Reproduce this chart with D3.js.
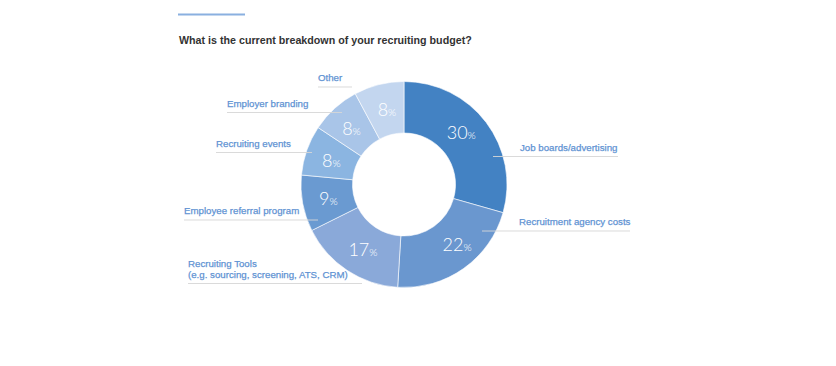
<!DOCTYPE html>
<html>
<head>
<meta charset="utf-8">
<script src="https://cdn.jsdelivr.net/npm/d3@7"></script>
<style>
html,body{margin:0;padding:0;background:#fff;}
svg{display:block;}
</style>
</head>
<body>
<svg id="chart" width="836" height="366"></svg>
<script>
// ---- data ----
const title = "What is the current breakdown of your recruiting budget?";
const categories = [
  "Job boards/advertising",
  "Recruitment agency costs",
  "Recruiting Tools|(e.g. sourcing, screening, ATS, CRM)",
  "Employee referral program",
  "Recruiting events",
  "Employer branding",
  "Other"
];
const values = [30, 22, 17, 9, 8, 8, 8];

// ---- styles / layout ----
const colors = ["#4382c3", "#6a97cf", "#8aa9d9", "#6a9ad1", "#8bb5e1", "#a9c5e8", "#c3d6ef"];
// label layout: text x, text baseline y (first line), line x1, x2, line y
const labelLayout = [
  {tx: 520, ty: 151, x1: 493, x2: 618, ly: 156.5},
  {tx: 519, ty: 225, x1: 482, x2: 630, ly: 231},
  {tx: 188, ty: 267, x1: 188, x2: 362, ly: 283.5},
  {tx: 184, ty: 214, x1: 184, x2: 318, ly: 220},
  {tx: 216, ty: 146.5, x1: 216, x2: 312, ly: 152.5},
  {tx: 227, ty: 106.5, x1: 227, x2: 342, ly: 112.5},
  {tx: 318, ty: 81, x1: 318, x2: 352, ly: 87}
];
// small nudges of percent labels relative to slice centroid
const pctNudge = [[-6, -4], [7, -3], [1, 0], [0, 0], [0, 2], [-1, 2], [1, 1]];

const svg = d3.select("#chart");
const cx = 404, cy = 184.5, rOuter = 103, rInner = 51.5;

// top accent line
svg.append("line")
  .attr("x1", 178).attr("x2", 245).attr("y1", 14.5).attr("y2", 14.5)
  .attr("stroke", "#8ab0e0").attr("stroke-width", 2);

// title
svg.append("text")
  .attr("x", 179).attr("y", 44)
  .attr("font-family", "Liberation Sans, Arial, sans-serif")
  .attr("font-size", 10.7).attr("font-weight", "bold")
  .attr("fill", "#333")
  .text(title);

const pie = d3.pie().sort(null).value(d => d)(values);
const arc = d3.arc().innerRadius(rInner).outerRadius(rOuter);
const labelArc = d3.arc().innerRadius(78).outerRadius(78);

const g = svg.append("g").attr("transform", `translate(${cx},${cy})`);
g.selectAll("path.slice").data(pie).enter().append("path")
  .attr("class", "slice")
  .attr("d", arc)
  .attr("fill", (d, i) => colors[i])
  .attr("stroke", "#fff").attr("stroke-width", 0.6);

// leader lines (drawn on top)
svg.selectAll("line.leader").data(labelLayout).enter().append("line")
  .attr("class", "leader")
  .attr("x1", d => d.x1).attr("x2", d => d.x2)
  .attr("y1", d => d.ly).attr("y2", d => d.ly)
  .attr("stroke", "#d6d6d6").attr("stroke-opacity", 0.9).attr("stroke-width", 1);

// category labels
categories.forEach((c, i) => {
  const L = labelLayout[i];
  const t = svg.append("text")
    .attr("x", L.tx).attr("y", L.ty)
    .attr("font-family", "Liberation Sans, Arial, sans-serif")
    .attr("font-size", 9.7)
    .attr("fill", "#5f93d3")
    .attr("stroke", "#5f93d3").attr("stroke-width", 0.25);
  c.split("|").forEach((line, k) => {
    t.append("tspan").attr("x", L.tx).attr("dy", k === 0 ? 0 : 10.5).text(line);
  });
});

// percent labels
g.selectAll("text.pct").data(pie).enter().append("text")
  .attr("class", "pct")
  .attr("transform", (d, i) => {
    const [x, y] = labelArc.centroid(d);
    return `translate(${x + 1 + pctNudge[i][0]},${y + 6 + pctNudge[i][1]})`;
  })
  .attr("text-anchor", "middle")
  .attr("font-family", "Lato, 'Open Sans', sans-serif")
  .attr("font-weight", 300)
  .attr("fill", "#fff")
  .each(function(d) {
    const t = d3.select(this);
    t.append("tspan").attr("font-size", 18).text(d.data);
    t.append("tspan").attr("font-size", 10.5).text("%");
  });
</script>
</body>
</html>
